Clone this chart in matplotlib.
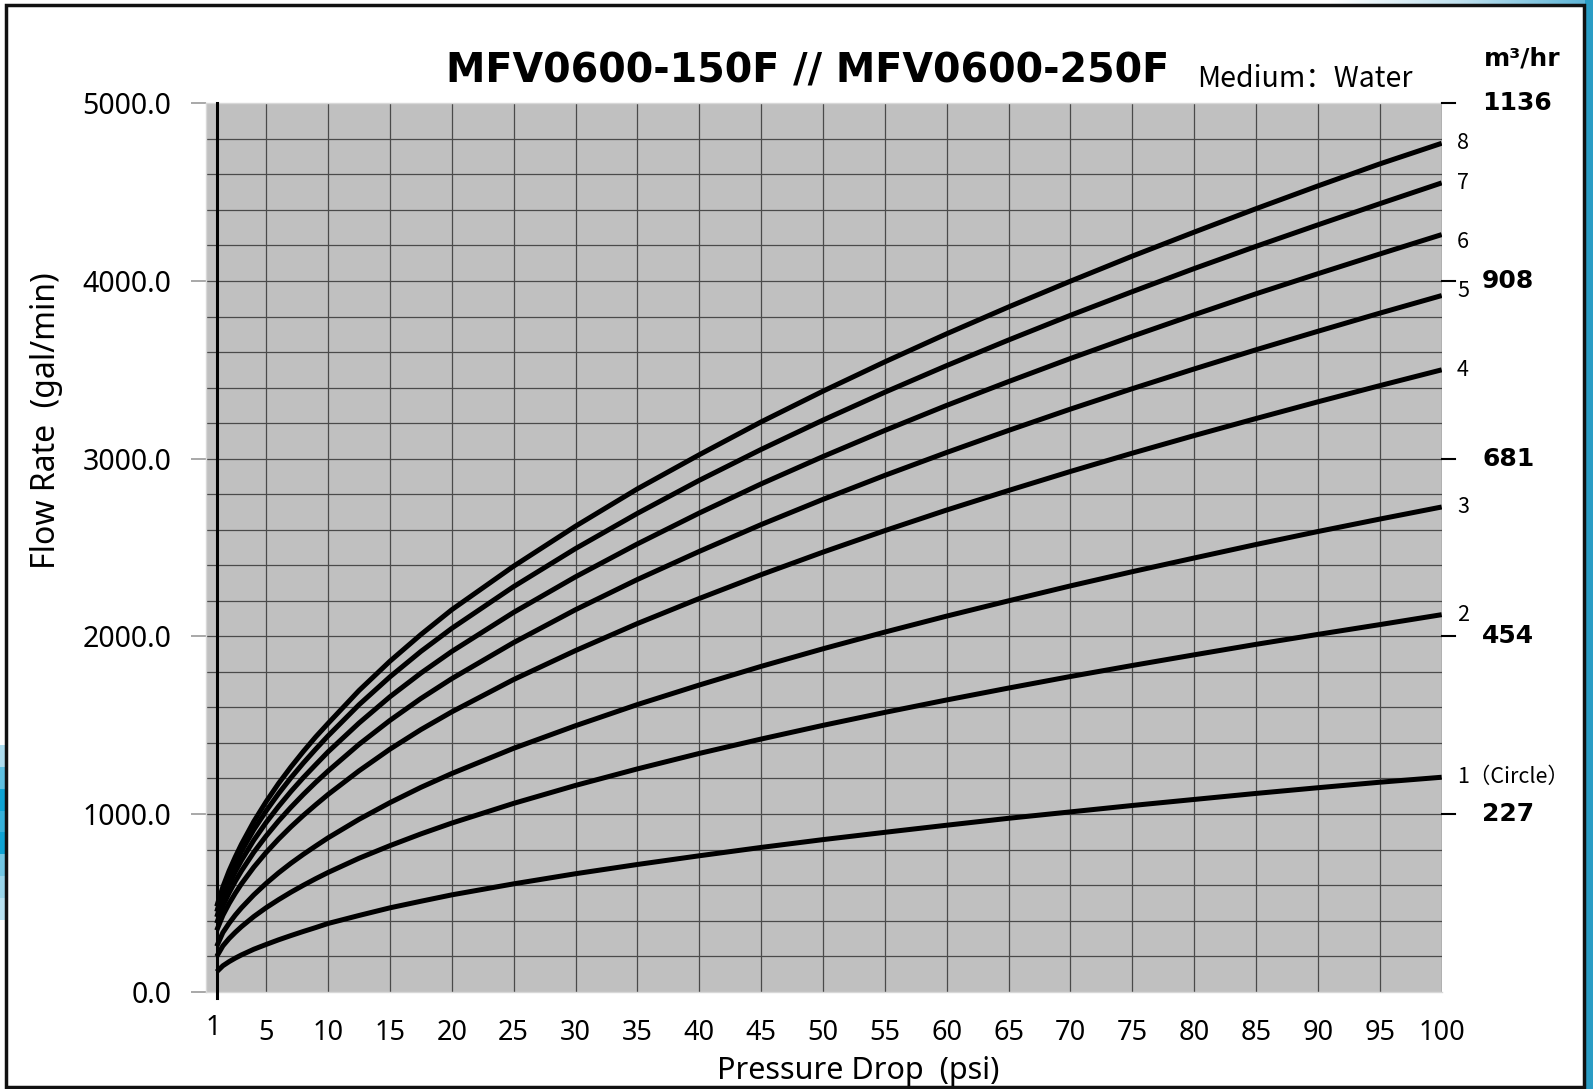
import matplotlib
matplotlib.use("Agg")
import matplotlib.pyplot as plt
from matplotlib.patches import Rectangle
import numpy as np

# ---------------- data ----------------
pressure_psi = [1, 1.5, 2, 2.5, 3, 4, 5, 6, 7, 8, 9, 10, 12.5, 15, 17.5, 20, 25, 30, 35, 40, 45,
                50, 55, 60, 65, 70, 75, 80, 85, 90, 95, 100]

curve_8 = [480, 590, 680, 758, 830, 958, 1070, 1172, 1265, 1352, 1434, 1510, 1695, 1860, 2010, 2150,
           2395, 2620, 2830, 3022, 3207, 3380, 3545, 3703, 3854, 3999, 4140, 4275, 4407, 4535, 4659, 4775]
curve_7 = [450, 560, 645, 721, 790, 912, 1018, 1115, 1204, 1287, 1365, 1440, 1615, 1772, 1915, 2045,
           2280, 2494, 2692, 2878, 3052, 3217, 3374, 3524, 3668, 3807, 3940, 4070, 4195, 4316, 4435, 4552]
curve_6 = [420, 524, 604, 675, 739, 853, 953, 1043, 1127, 1205, 1278, 1350, 1512, 1660, 1793, 1915,
           2135, 2335, 2520, 2694, 2858, 3012, 3159, 3300, 3434, 3564, 3689, 3810, 3928, 4041, 4152, 4261]
curve_5 = [385, 482, 556, 621, 680, 785, 877, 961, 1038, 1110, 1178, 1242, 1392, 1527, 1650, 1762,
           1965, 2150, 2320, 2478, 2629, 2771, 2906, 3035, 3159, 3279, 3394, 3505, 3613, 3717, 3819, 3918]
curve_4 = [345, 430, 496, 554, 607, 701, 784, 859, 928, 992, 1052, 1110, 1243, 1365, 1475, 1575,
           1757, 1920, 2072, 2213, 2347, 2474, 2595, 2711, 2821, 2928, 3031, 3130, 3226, 3320, 3411, 3500]
curve_3 = [255, 333, 385, 431, 472, 545, 610, 669, 723, 773, 820, 866, 970, 1064, 1150, 1228,
           1370, 1497, 1616, 1726, 1831, 1930, 2024, 2114, 2200, 2284, 2364, 2441, 2517, 2590, 2660, 2728]
curve_2 = [198, 258, 299, 334, 366, 423, 473, 518, 560, 599, 636, 671, 751, 822, 888, 949,
           1060, 1161, 1254, 1341, 1422, 1499, 1572, 1642, 1709, 1774, 1836, 1896, 1955, 2011, 2066, 2122]
curve_1 = [112, 146, 169, 189, 207, 239, 266, 292, 316, 339, 361, 384, 429, 472, 509, 545,
           607, 664, 716, 765, 812, 856, 897, 937, 976, 1012, 1048, 1082, 1116, 1148, 1179, 1207]

curves = [curve_1, curve_2, curve_3, curve_4, curve_5, curve_6, curve_7, curve_8]
curve_labels = ["1（Circle）", "2", "3", "4", "5", "6", "7", "8"]

x_ticks = [1, 5, 10, 15, 20, 25, 30, 35, 40, 45, 50, 55, 60, 65, 70, 75, 80, 85, 90, 95, 100]
y_ticks = [0, 1000, 2000, 3000, 4000, 5000]
y_tick_labels = ["0.0", "1000.0", "2000.0", "3000.0", "4000.0", "5000.0"]
m3_ticks = [1000, 2000, 3000, 4000, 5000]
m3_labels = ["227", "454", "681", "908", "1136"]

title = "MFV0600-150F // MFV0600-250F"
medium = "Medium：Water"

# ---------------- figure ----------------
W, H = 1593, 1089
fig = plt.figure(figsize=(W / 100, H / 100), dpi=100)
fig.patch.set_facecolor("white")

def fx(px):
    return px / W

def fy(py):
    return 1 - py / H

# decorative background (blue edges + frame)
blue_r = Rectangle((fx(1585), 0), fx(8), 1, transform=fig.transFigure,
                   facecolor="#2a9cc4", edgecolor="none", zorder=0)
fig.add_artist(blue_r)
grad = np.linspace(0, 1, 256).reshape(1, -1)
ax_bg = fig.add_axes([fx(1330), fy(6), fx(263), 6 / H], zorder=-1)
ax_bg.imshow(grad, aspect="auto", cmap=matplotlib.colors.LinearSegmentedColormap.from_list(
    "b", ["#ffffff", "#bfe0ee", "#58b3d6"]))
ax_bg.axis("off")
ax_bl = fig.add_axes([0, fy(920), fx(6), (920 - 745) / H], zorder=-1)
vgrad = np.array([[0.2], [0.6], [1.0], [0.8], [1.0], [0.5], [0.3], [0.15]])
ax_bl.imshow(vgrad, aspect="auto", cmap=matplotlib.colors.LinearSegmentedColormap.from_list(
    "b2", ["#d6ecf6", "#0fa3d3"]), vmin=0, vmax=1)
ax_bl.axis("off")
frame = Rectangle((fx(6), fy(1087)), fx(1578), (1087 - 5) / H, transform=fig.transFigure,
                  facecolor="none", edgecolor="#111111", linewidth=2.5, zorder=1)
fig.add_artist(frame)

# ---------------- axes ----------------
ax_l, ax_r = 206, 1441.7
ax_t, ax_b = 103.3, 991.7
ax = fig.add_axes([fx(ax_l), fy(ax_b), fx(ax_r - ax_l), (ax_b - ax_t) / H])
ax.set_facecolor("#c0c0c0")
ax.set_xlim(0.135, 100)
ax.set_ylim(0, 5000)

for xv in x_ticks[1:]:
    ax.axvline(xv, color="#4a4a4a", linewidth=0.9, zorder=1)
for yv in range(200, 5000, 200):
    ax.axhline(yv, color="#4a4a4a", linewidth=0.9, zorder=1)

ax.axvline(1, ymin=-0.007, ymax=1, color="black", linewidth=2.2, zorder=3, clip_on=False)

for c in curves:
    ax.plot(pressure_psi, c, color="black", linewidth=3.6, solid_capstyle="butt",
            solid_joinstyle="round", zorder=4)

for sp in ["left", "bottom", "top"]:
    ax.spines[sp].set_color("#d8d8d8")
    ax.spines[sp].set_linewidth(1.0)
ax.spines["right"].set_visible(False)

ax.set_xticks(x_ticks)
ax.set_xticklabels(["" if v == 1 else str(v) for v in x_ticks], fontsize=19.5, family="Noto Sans")
ax.tick_params(axis="x", length=0, pad=20)
ax.annotate("1", xy=(0.7, 0), xycoords=("data", "axes fraction"), xytext=(0, -26),
            textcoords="offset points", fontsize=19.5, family="Noto Sans",
            ha="center", va="center", annotation_clip=False)
ax.set_yticks(y_ticks)
ax.set_yticklabels(y_tick_labels, fontsize=20.5, family="Noto Sans")
ax.tick_params(axis="y", length=11, color="#999999", width=1.2, pad=14)

# right-hand m3/hr ticks and labels
for v, lab in zip(m3_ticks, m3_labels):
    ax.plot([100, 101.1], [v, v], color="black", linewidth=1.5, clip_on=False, zorder=5)
    py = ax_b - v * (ax_b - ax_t) / 5000
    fig.text(fx(1482), fy(py), lab, fontsize=18, fontweight="bold", family="DejaVu Sans",
             ha="left", va="center")
fig.text(fx(1522), fy(58), "m³/hr", fontsize=18, fontweight="bold", family="DejaVu Sans",
         ha="center", va="center")

# curve labels (small vertical nudges as in the original)
label_nudge = {"6": -5, "5": 3}
for c, lab in zip(curves, curve_labels):
    ax.annotate(lab, xy=(100, c[-1]), xytext=(11, label_nudge.get(lab, 0)),
                textcoords="offset points", fontsize=15.5,
                family=["Noto Sans CJK SC", "DejaVu Sans"],
                ha="left", va="center", annotation_clip=False)

# titles
fig.text(fx(808), fy(72), title, fontsize=28.5, fontweight="bold", family="DejaVu Sans",
         ha="center", va="center")
fig.text(fx(1305), fy(79), medium, fontsize=20.5, family=["Noto Sans CJK SC", "DejaVu Sans"],
         ha="center", va="center")

# axis titles
fig.text(fx(47), fy(421), "Flow Rate  (gal/min)", fontsize=23, family="Noto Sans",
         rotation=90, ha="center", va="center")
fig.text(fx(858), fy(1071), "Pressure Drop  (psi)", fontsize=22, family="Noto Sans",
         ha="center", va="center")

fig.savefig("out.png", dpi=100)
